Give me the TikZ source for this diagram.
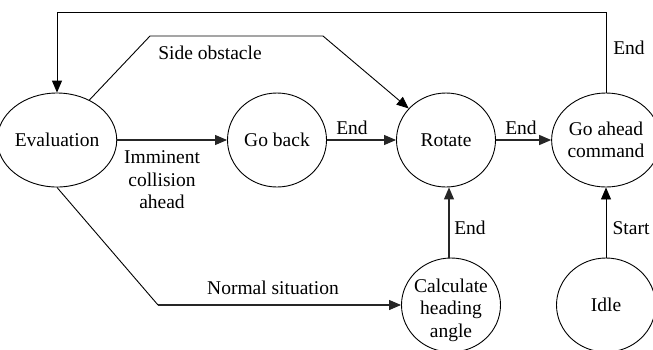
\documentclass[tikz,border=0pt]{standalone}
\usepackage{fontspec}
\setmainfont{Liberation Serif}
\usetikzlibrary{arrows.meta,shapes.geometric}
\begin{document}
\begin{tikzpicture}[x=1pt,y=-1pt,
  font=\fontsize{19.5}{22.5}\selectfont,
  state/.style={ellipse,draw,line width=0.9pt,minimum width=99pt,minimum height=94pt,
    inner sep=0pt,align=center},
  conn/.style={line width=1.1pt,draw=black!85},
  thin conn/.style={line width=0.9pt,draw=black},
  arr/.style={conn,-{Triangle[length=12pt,width=10pt]}},
  lbl/.style={inner sep=0pt,align=center}]
\useasboundingbox (0,0) rectangle (653,349);

% states
\node[state] (eval) at (57,140) {Evaluation};
\node[state] (back) at (277,140) {Go back};
\node[state] (rot)  at (446,140) {Rotate};
\node[state] (go)   at (606,140) {Go ahead\\command};
\node[state,label={[lbl,yshift=-5pt]center:Calculate\\heading\\angle}] (calc) at (451,305) {};
\node[state] (idle) at (606,305) {Idle};

% bend points of the routed connectors
\coordinate (so1) at (150,36);
\coordinate (so2) at (323,36);
\coordinate (fb1) at (606,12);
\coordinate (fb2) at (57,12);
\coordinate (ns1) at (158,305);

% transitions
\draw[thin conn] (eval.51) -- (so1) -- (so2);
\draw[arr,thin conn] (so2) -- (rot);
\draw[arr] (eval) -- (back);
\draw[arr] (back) -- (rot);
\draw[arr] (rot) -- (go);
\draw[arr,thin conn] (go.north) -- (fb1) -- (fb2) -- (eval.north);
\draw[thin conn] (eval.south) -- (ns1);
\draw[arr] (ns1) -- (calc.west);
\draw[arr] ([xshift=-2pt]calc.north) -- ([xshift=-2pt]calc.north |- rot.south);
\draw[arr,thin conn] (idle.north) -- (go.south);

% labels
\node[lbl] (l1) at (210,53) {Side obstacle};
\node[lbl] (l2) at (162,180) {Imminent\\collision\\ahead};
\node[lbl] (l3) at (352,128) {End};
\node[lbl] (l4) at (521,128) {End};
\node[lbl] (l5) at (629,48) {End};
\node[lbl] (l6) at (470,228) {End};
\node[lbl] (l7) at (631,228) {Start};
\node[lbl] (l8) at (273,288) {Normal situation};
\end{tikzpicture}
\end{document}
